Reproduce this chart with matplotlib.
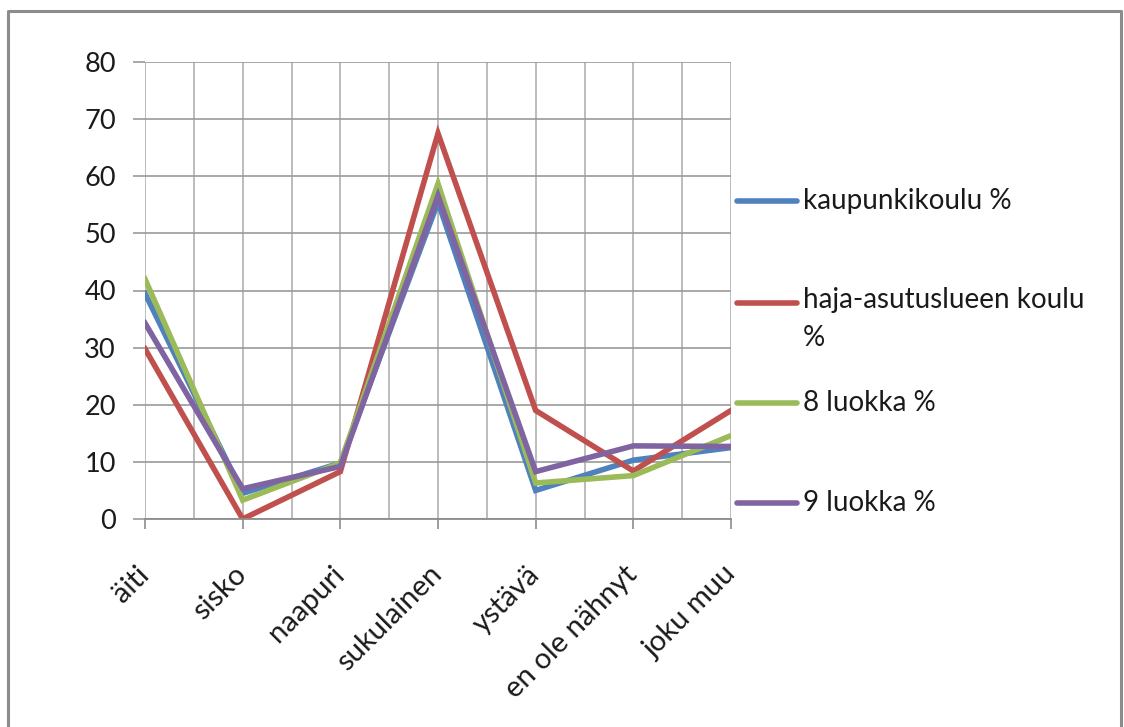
import numpy as np
import matplotlib.pyplot as plt
from matplotlib.lines import Line2D

plt.rcParams['font.family'] = ['Lato', 'DejaVu Sans']

categories = ['äiti', 'sisko', 'naapuri', 'sukulainen', 'ystävä', 'en ole nähnyt', 'joku muu']
kaupunki = [39.5, 4.5, 9.8, 55.5, 5.0, 10.3, 12.5]
haja = [29.8, 0.0, 8.3, 67.5, 19.0, 8.4, 19.0]
luokka8 = [42.0, 3.3, 9.8, 58.7, 6.3, 7.6, 14.6]
luokka9 = [34.3, 5.3, 9.2, 56.6, 8.3, 12.8, 12.7]

names = ['kaupunkikoulu %', 'haja-asutuslueen koulu\n%', '8 luokka %', '9 luokka %']
colors = ['#4F81BD', '#C0504D', '#9BBB59', '#8064A2']
series = [kaupunki, haja, luokka8, luokka9]

fig = plt.figure(figsize=(11.24, 7.27), dpi=100)
# outer chart border (top, left, right)
fig.add_artist(Line2D([8/1124, 8/1124, 1121/1124, 1121/1124],
                      [0, 1-11/727, 1-11/727, 0], color='#8c8c8c', lw=2.2))

ax = fig.add_axes([145/1124, 1-519/727, 586/1124, 457/727])
x = np.arange(len(categories))
for vals, c in zip(series, colors):
    ax.plot(x, vals, color=c, lw=4, solid_joinstyle='miter')

ax.set_xlim(0, len(categories)-1)
ax.set_ylim(0, 80)
ax.set_yticks(np.arange(0, 81, 10))
ax.set_xticks(x)
ax.set_xticks(np.arange(0.5, len(categories)-1, 1), minor=True)
ax.grid(True, which='both', axis='x', color='#b0b0b0', lw=1.2)
ax.grid(True, which='major', axis='y', color='#9a9a9a', lw=1.2)
ax.set_axisbelow(True)
for s in ['top', 'right', 'left']:
    ax.spines[s].set_visible(False)
ax.spines['bottom'].set_color('#8c8c8c')
ax.spines['bottom'].set_linewidth(1.3)
ax.tick_params(axis='y', length=9, width=1.2, color='#9a9a9a', labelsize=19.5, pad=12,
               labelcolor='#1a1a1a')
ax.tick_params(axis='x', which='major', length=7, width=1.2, color='#8c8c8c', labelsize=21,
               pad=30, labelcolor='#1a1a1a')
ax.tick_params(axis='x', which='minor', length=0)
ax.set_xticklabels(categories, rotation=45, ha='right', va='center', rotation_mode='anchor')

# legend
leg_y = [201, 303, 403, 503]
for name, c, yy in zip(names, colors, leg_y):
    yf = 1 - yy/727
    fig.add_artist(Line2D([737/1124, 797/1124], [yf, yf], color=c, lw=4,
                          solid_capstyle='round'))
    if '\n' in name:
        fig.text(803/1124, yf + 16/727, name, fontsize=20, va='top', color='#1a1a1a',
                 linespacing=1.55)
    else:
        fig.text(803/1124, yf, name, fontsize=20, va='center', color='#1a1a1a')

fig.savefig('out.png', dpi=100)
